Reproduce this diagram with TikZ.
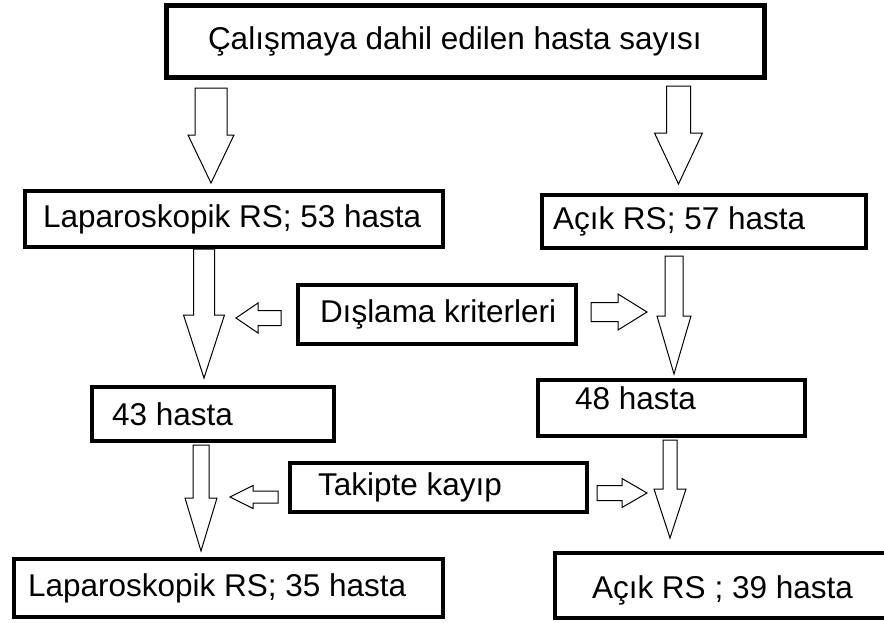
\documentclass[tikz,border=0pt]{standalone}
\usepackage{fontspec}
\setmainfont{Liberation Sans}
\usetikzlibrary{calc}

\tikzset{
	box/.style={draw, line width=4pt, inner ysep=0pt, font=\fontsize{31.5}{38}\selectfont},
	blockarr/.style={draw, line width=1pt, fill=white},
}

% text set flush left in a fixed width
\newcommand{\ltext}[2]{\makebox[#1][l]{#2}}

% hollow block arrow: tail, tip, shaft half width, head half width, head length
\newcommand{\blockarrow}[5]{%
	\coordinate (ba) at ($(#2)!#5pt!(#1)$);
	\draw[blockarr] ($(#1)!#3pt!90:(#2)$) -- ($(ba)!#3pt!90:(#2)$) -- ($(ba)!#4pt!90:(#2)$)
		-- (#2) -- ($(ba)!#4pt!-90:(#2)$) -- ($(ba)!#3pt!-90:(#2)$) -- ($(#1)!#3pt!-90:(#2)$) -- cycle;
}

\begin{document}
\begin{tikzpicture}[x=1pt, y=-1pt]
		\useasboundingbox (0,0) rectangle (884,622);
		
		% (1) arrows ends
		\coordinate (t1) at (211,88);    \coordinate (h1) at (211,183);
		\coordinate (t2) at (678.5,86);  \coordinate (h2) at (678.5,184);
		\coordinate (t3) at (204,249);   \coordinate (h3) at (204,378);
		\coordinate (t4) at (674,256);   \coordinate (h4) at (674,374);
		\coordinate (t5) at (201,445);   \coordinate (h5) at (201,551);
		\coordinate (t6) at (670,440);   \coordinate (h6) at (670,538);
		\coordinate (s1) at (281,318);   \coordinate (e1) at (236,318);
		\coordinate (s2) at (591,312);   \coordinate (e2) at (647,312);
		\coordinate (s3) at (278,497);   \coordinate (e3) at (230,497);
		\coordinate (s4) at (597,493);   \coordinate (e4) at (647,493);
		
		% (2) down arrows
		\blockarrow{t1}{h1}{16}{23}{48}
		\blockarrow{t2}{h2}{12}{24}{51}
		\blockarrow{t3}{h3}{10.5}{20.5}{63}
		\blockarrow{t4}{h4}{9}{17}{58}
		\blockarrow{t5}{h5}{8}{16}{53}
		\blockarrow{t6}{h6}{7}{16}{49}
		
		% (3) side arrows
		\blockarrow{s1}{e1}{7.5}{15}{22}
		\blockarrow{s2}{e2}{9.5}{18}{29}
		\blockarrow{s3}{e3}{6}{11.5}{23}
		\blockarrow{s4}{e4}{7.5}{14.5}{25}
		
		% (4) boxes
		\node[box, line width=5pt, inner xsep=41.5pt, minimum height=72pt] (top) at (465.5,41.5) {\ltext{515pt}{Çalışmaya dahil edilen hasta sayısı}};
		\node[box, inner xsep=18pt, minimum height=56pt] (lap53) at (234,219) {\ltext{382pt}{Laparoskopik RS; 53 hasta}};
		\node[box, inner xsep=11pt, minimum height=53pt] (acik57) at (704,221.5) {\ltext{302pt}{Açık RS; 57 hasta}};
		\node[box, inner xsep=22pt, minimum height=59pt] (excl) at (437,314.5) {\ltext{234pt}{Dışlama kriterleri}};
		\node[box, inner xsep=20pt, minimum height=54pt] (has43) at (213,414) {\ltext{202pt}{43 hasta}};
		\node[box, inner xsep=37pt, minimum height=56pt, text depth=20pt] (has48) at (671.5,408) {\ltext{193pt}{48 hasta}};
		\node[box, inner xsep=28pt, minimum height=49pt] (lost) at (438.5,487.5) {\ltext{241pt}{Takipte kayıp}};
		\node[box, inner xsep=14pt, minimum height=58pt] (lap35) at (228.5,588) {\ltext{401pt}{Laparoskopik RS; 35 hasta}};
		\node[box, inner xsep=37pt, minimum height=65pt, text height=32pt] (acik39) at (727.5,585.5) {\ltext{271pt}{Açık RS ; 39 hasta}};
	\end{tikzpicture}
\end{document}
